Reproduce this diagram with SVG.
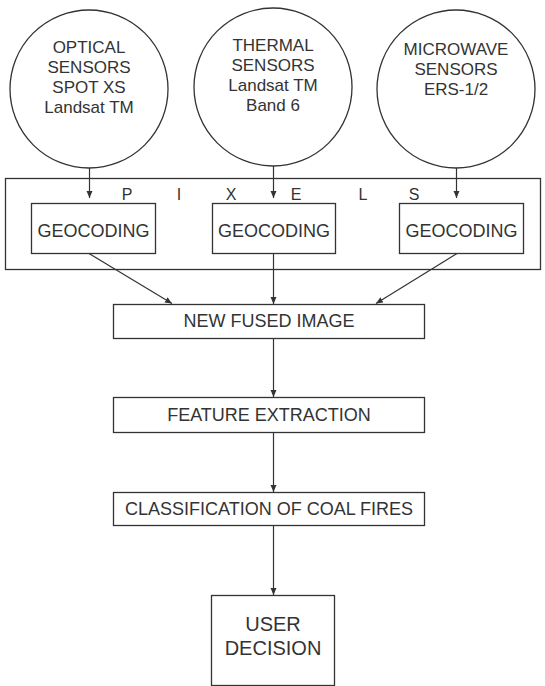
<svg xmlns="http://www.w3.org/2000/svg" width="545" height="686" viewBox="0 0 545 686">
<defs>
<marker id="ah" markerUnits="userSpaceOnUse" markerWidth="8" markerHeight="8" refX="7" refY="3" orient="auto">
<path d="M0,0 L7,3 L0,6 Z" fill="#333"/>
</marker>
<style>
.s{fill:#fff;stroke:#333;stroke-width:1.3}
.t{font-family:"Liberation Sans",Arial,sans-serif;fill:#333;text-anchor:middle}
.c{font-size:17px}
.b{font-size:18px}
.p{font-size:16px}
.e{stroke:#333;stroke-width:1.2;fill:none;marker-end:url(#ah)}
</style>
</defs>
<rect width="545" height="686" fill="#fff"/>
<g id="pixels">
<rect class="s" x="5.5" y="178.5" width="535" height="91" fill="none"/>
<g class="t p">
<text x="127" y="200">P</text>
<text x="179" y="200">I</text>
<text x="231" y="200">X</text>
<text x="296" y="200">E</text>
<text x="363" y="200">L</text>
<text x="414" y="200">S</text>
</g>
</g>
<g id="optical">
<circle class="s" cx="89" cy="89" r="79"/>
<text class="t c" x="89" y="53">OPTICAL</text>
<text class="t c" x="89" y="73">SENSORS</text>
<text class="t c" x="89" y="93">SPOT XS</text>
<text class="t c" x="89" y="113">Landsat TM</text>
</g>
<g id="thermal">
<circle class="s" cx="273" cy="87" r="79"/>
<text class="t c" x="273" y="51">THERMAL</text>
<text class="t c" x="273" y="71">SENSORS</text>
<text class="t c" x="273" y="91">Landsat TM</text>
<text class="t c" x="273" y="111">Band 6</text>
</g>
<g id="microwave">
<circle class="s" cx="456" cy="89" r="79"/>
<text class="t c" x="456" y="55">MICROWAVE</text>
<text class="t c" x="456" y="75">SENSORS</text>
<text class="t c" x="456" y="95">ERS-1/2</text>
</g>
<g id="geo1">
<rect class="s" x="31.5" y="203.5" width="124" height="50"/>
<text class="t b" x="93.5" y="237">GEOCODING</text>
</g>
<g id="geo2">
<rect class="s" x="212.5" y="203.5" width="123" height="50"/>
<text class="t b" x="274" y="237">GEOCODING</text>
</g>
<g id="geo3">
<rect class="s" x="399.5" y="203.5" width="124" height="50"/>
<text class="t b" x="461.5" y="237">GEOCODING</text>
</g>
<g id="fused">
<rect class="s" x="113.5" y="304.5" width="311" height="34"/>
<text class="t b" x="269" y="327">NEW FUSED IMAGE</text>
</g>
<g id="feature">
<rect class="s" x="113.5" y="397.5" width="311" height="35"/>
<text class="t b" x="269" y="421">FEATURE EXTRACTION</text>
</g>
<g id="classification">
<rect class="s" x="113.5" y="492.5" width="311" height="33"/>
<text class="t b" x="269" y="515">CLASSIFICATION OF COAL FIRES</text>
</g>
<g id="user">
<rect class="s" x="211.5" y="595.5" width="123" height="90"/>
<text class="t" x="273" y="631" font-size="20">USER</text>
<text class="t" x="273" y="655" font-size="20">DECISION</text>
</g>
<g id="connectors">
<line class="e" x1="89.5" y1="168" x2="89.5" y2="198"/>
<line class="e" x1="273.5" y1="166" x2="273.5" y2="198"/>
<line class="e" x1="456.5" y1="168" x2="456.5" y2="198"/>
<line class="e" x1="89" y1="253.5" x2="172" y2="303.5"/>
<line class="e" x1="273.5" y1="253.5" x2="273.5" y2="304"/>
<line class="e" x1="457" y1="253.5" x2="376" y2="303.5"/>
<line class="e" x1="273.5" y1="338.5" x2="273.5" y2="397"/>
<line class="e" x1="273.5" y1="432.5" x2="273.5" y2="492"/>
<line class="e" x1="273.5" y1="525.5" x2="273.5" y2="595"/>
</g>
</svg>
